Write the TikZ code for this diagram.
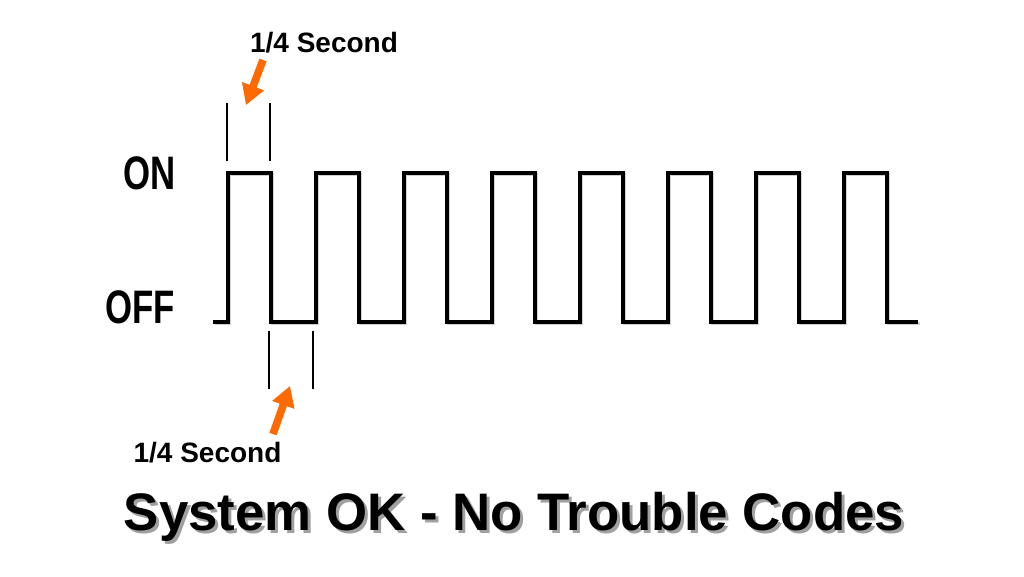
\documentclass[tikz,border=0pt]{standalone}
\usepackage{fontspec}
\setmainfont{Liberation Sans}
\usetikzlibrary{arrows.meta}
\definecolor{arrorange}{HTML}{FF6A00}
\definecolor{shadowgray}{HTML}{A0A0A0}
\newcommand{\shadowtext}[1]{\rlap{\hspace{3pt}\raisebox{-3pt}{\textcolor{shadowgray}{#1}}}#1}
\begin{document}
\begin{tikzpicture}[x=1pt,y=-1pt,
  wave/.style={line width=3.6pt,line join=miter,line cap=butt},
  tick/.style={line width=1.3pt},
  orangearrow/.style={arrorange,line width=7.5pt,-{Triangle[width=22pt,length=20pt]}},
  arrshadow/.style={shadowgray!60,line width=7.5pt,-{Triangle[width=22pt,length=20pt]}},
  lbl/.style={font=\bfseries\fontsize{28}{30}\selectfont,inner sep=0pt,anchor=base},
  state/.style={font=\bfseries\fontsize{47}{50}\selectfont,inner sep=0pt,anchor=base east},
  titletxt/.style={font=\bfseries\fontsize{52.8}{56}\selectfont,inner sep=0pt,anchor=base}]
\useasboundingbox (0,0) rectangle (1024,576);
\fill[white] (0,0) rectangle (1024,576);

% labels
\node[lbl] (toplbl) at (324,52) {1/4 Second};
\node[lbl] (botlbl) at (207.5,462) {1/4 Second};
\node[state] (on) at (176,189) {\scalebox{0.74}[1]{ON}};
\node[state] (off) at (175,323) {\scalebox{0.74}[1]{OFF}};

% title with shadow
\node[titletxt] (title) at (514,530) {\shadowtext{System OK - No Trouble Codes}};

% waveform shadow and waveform
\draw[wave,shadowgray!50,shift={(1.5,1.5)}]
  (213,322) -- (228,322) -- (228,173) -- (271,173) -- (271,322)
  -- (316,322) -- (316,173) -- (359,173) -- (359,322)
  -- (404,322) -- (404,173) -- (447,173) -- (447,322)
  -- (492,322) -- (492,173) -- (535,173) -- (535,322)
  -- (580,322) -- (580,173) -- (623,173) -- (623,322)
  -- (668,322) -- (668,173) -- (711,173) -- (711,322)
  -- (756,322) -- (756,173) -- (799,173) -- (799,322)
  -- (844,322) -- (844,173) -- (887,173) -- (887,322) -- (918,322);
\draw[wave]
  (213,322) -- (228,322) -- (228,173) -- (271,173) -- (271,322)
  -- (316,322) -- (316,173) -- (359,173) -- (359,322)
  -- (404,322) -- (404,173) -- (447,173) -- (447,322)
  -- (492,322) -- (492,173) -- (535,173) -- (535,322)
  -- (580,322) -- (580,173) -- (623,173) -- (623,322)
  -- (668,322) -- (668,173) -- (711,173) -- (711,322)
  -- (756,322) -- (756,173) -- (799,173) -- (799,322)
  -- (844,322) -- (844,173) -- (887,173) -- (887,322) -- (918,322);

% tick marks
\coordinate (t1a) at (227,103); \coordinate (t1b) at (227,161);
\coordinate (t2a) at (270,103); \coordinate (t2b) at (270,161);
\coordinate (b1a) at (269,331); \coordinate (b1b) at (269,389);
\coordinate (b2a) at (313,331); \coordinate (b2b) at (313,389);
\draw[tick] (t1a) -- (t1b);
\draw[tick] (t2a) -- (t2b);
\draw[tick] (b1a) -- (b1b);
\draw[tick] (b2a) -- (b2b);

% orange arrows
\coordinate (a1tail) at (263,60); \coordinate (a1tip) at (246,105);
\coordinate (a2tail) at (273,434); \coordinate (a2tip) at (290,386);
\draw[arrshadow,shift={(2,2)}] (a1tail) -- (a1tip);
\draw[orangearrow] (a1tail) -- (a1tip);
\draw[arrshadow,shift={(2,2)}] (a2tail) -- (a2tip);
\draw[orangearrow] (a2tail) -- (a2tip);
\end{tikzpicture}
\end{document}
